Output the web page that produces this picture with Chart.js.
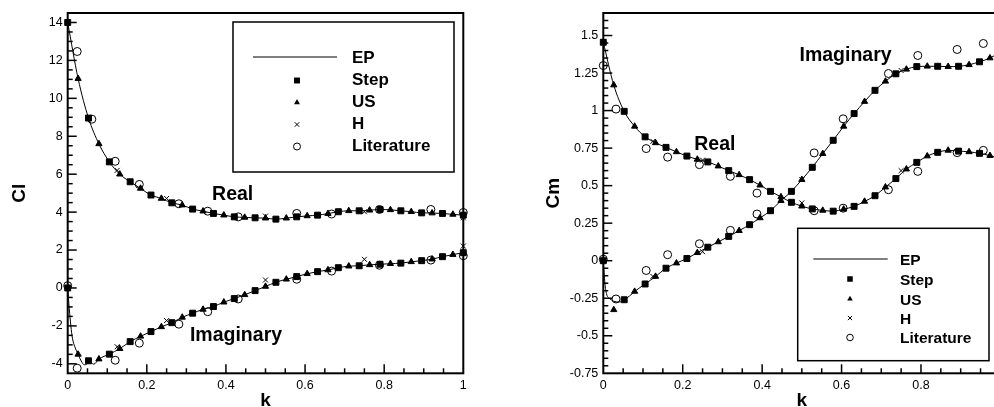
<!DOCTYPE html>
<html>
<head>
<meta charset="utf-8">
<title>Cl and Cm versus reduced frequency k</title>
<script src="https://cdn.jsdelivr.net/npm/chart.js@4.4.1/dist/chart.umd.min.js"></script>
<style>
  html, body { margin: 0; padding: 0; background: #fff; overflow: hidden; }
  #stage { position: relative; width: 994px; height: 407px; overflow: hidden; background: #fff; }
  #stage canvas { position: absolute; top: 0; }
  #clCanvas { left: 0; }
  #cmCanvas { left: 497px; }
</style>
</head>
<body>
<div id="stage">
  <canvas id="clCanvas" width="497" height="407"></canvas>
  <canvas id="cmCanvas" width="530" height="407"></canvas>
</div>
<script>
// ---- tick labels ----
const kTicks = [0, 0.2, 0.4, 0.6, 0.8, 1];
const clTicks = [-4, -2, 0, 2, 4, 6, 8, 10, 12, 14];
const cmTicks = [-0.75, -0.5, -0.25, 0, 0.25, 0.5, 0.75, 1, 1.25, 1.5];

// ---- reduced frequencies of each method ----
const kStep = [0, 0.0526, 0.1053, 0.1579, 0.2105, 0.2632, 0.3158, 0.3684, 0.4211, 0.4737, 0.5263, 0.5789, 0.6316, 0.6842, 0.7368, 0.7895, 0.8421, 0.8947, 0.9474, 1];
const kUS = [0.0263, 0.0789, 0.1316, 0.1842, 0.2368, 0.2895, 0.3421, 0.3947, 0.4474, 0.5, 0.5526, 0.6053, 0.6579, 0.7105, 0.7632, 0.8158, 0.8684, 0.9211, 0.9737];
const kH = [0.125, 0.25, 0.5, 0.75, 1];
const kEp = [0, 0.0263, 0.0526, 0.0789, 0.1053, 0.1316, 0.1579, 0.1842, 0.2105, 0.2368, 0.2632, 0.2895, 0.3158, 0.3421, 0.3684, 0.3947, 0.4211, 0.4474, 0.4737, 0.5, 0.5263, 0.5526, 0.5789, 0.6053, 0.6316, 0.6579, 0.6842, 0.7105, 0.7368, 0.7632, 0.7895, 0.8158, 0.8421, 0.8684, 0.8947, 0.9211, 0.9474, 0.9737, 1];
const clEpKImag = [0, 0.004, 0.008, 0.012, 0.018, 0.0263, 0.034, 0.042, 0.048, 0.0526, 0.066, 0.0789, 0.1053, 0.1316, 0.1579, 0.1842, 0.2105, 0.2368, 0.2632, 0.2895, 0.3158, 0.3421, 0.3684, 0.3947, 0.4211, 0.4474, 0.4737, 0.5, 0.5263, 0.5526, 0.5789, 0.6053, 0.6316, 0.6579, 0.6842, 0.7105, 0.7368, 0.7632, 0.7895, 0.8158, 0.8421, 0.8684, 0.8947, 0.9211, 0.9474, 0.9737, 1];
const cmEpKImag = [0, 0.004, 0.008, 0.015, 0.0263, 0.04, 0.0526, 0.066, 0.0789, 0.1053, 0.1316, 0.1579, 0.1842, 0.2105, 0.2368, 0.2632, 0.2895, 0.3158, 0.3421, 0.3684, 0.3947, 0.4211, 0.4474, 0.4737, 0.5, 0.5263, 0.5526, 0.5789, 0.6053, 0.6316, 0.6579, 0.6842, 0.7105, 0.7368, 0.7632, 0.7895, 0.8158, 0.8421, 0.8684, 0.8947, 0.9211, 0.9474, 0.9737, 1];
const clLitKReal = [0.024, 0.061, 0.12, 0.181, 0.281, 0.354, 0.431, 0.579, 0.667, 0.788, 0.918, 1];
const clLitKImag = [0, 0.024, 0.12, 0.181, 0.281, 0.354, 0.431, 0.579, 0.667, 0.788, 0.918, 1];
const cmLitK = [0, 0.032, 0.108, 0.162, 0.242, 0.32, 0.387, 0.531, 0.604, 0.718, 0.792, 0.891, 0.957];

// ---- lift coefficient Cl ----
const clEpReal = [14.0, 11.04, 8.96, 7.6, 6.65, 6.0, 5.6, 5.25, 4.9, 4.72, 4.49, 4.37, 4.16, 4.05, 3.93, 3.84, 3.75, 3.72, 3.7, 3.68, 3.63, 3.68, 3.75, 3.8, 3.84, 3.92, 4.02, 4.07, 4.07, 4.1, 4.14, 4.12, 4.07, 4.02, 3.96, 3.95, 3.93, 3.88, 3.84];
const clEpImag = [0, -1.1, -2.0, -2.65, -3.1, -3.5, -3.85, -4.05, -4.02, -3.84, -4.02, -3.75, -3.49, -3.2, -2.83, -2.55, -2.3, -2.05, -1.83, -1.55, -1.33, -1.13, -0.98, -0.75, -0.56, -0.36, -0.14, 0.08, 0.3, 0.46, 0.6, 0.75, 0.86, 0.95, 1.07, 1.15, 1.17, 1.22, 1.25, 1.28, 1.31, 1.38, 1.44, 1.52, 1.65, 1.76, 1.86];
const clStepReal = [14.0, 8.96, 6.65, 5.6, 4.9, 4.49, 4.16, 3.93, 3.75, 3.7, 3.63, 3.75, 3.84, 4.02, 4.07, 4.14, 4.07, 3.96, 3.93, 3.84];
const clStepImag = [0, -3.84, -3.49, -2.83, -2.3, -1.83, -1.33, -0.98, -0.56, -0.14, 0.3, 0.6, 0.86, 1.07, 1.17, 1.25, 1.31, 1.44, 1.65, 1.86];
const clUSReal = [11.04, 7.6, 6.0, 5.25, 4.72, 4.37, 4.05, 3.84, 3.72, 3.68, 3.68, 3.8, 3.92, 4.07, 4.1, 4.12, 4.02, 3.95, 3.88];
const clUSImag = [-3.5, -3.75, -3.2, -2.55, -2.05, -1.55, -1.13, -0.75, -0.36, 0.08, 0.46, 0.75, 0.95, 1.15, 1.22, 1.28, 1.38, 1.52, 1.76];
const clHReal = [6.2, 4.72, 3.79, 4.02, 3.7];
const clHImag = [-3.1, -1.72, 0.42, 1.51, 2.21];
const clLitReal = [12.47, 8.9, 6.68, 5.46, 4.44, 4.05, 3.75, 3.93, 3.9, 4.14, 4.14, 3.98];
const clLitImag = [0.12, -4.23, -3.81, -2.91, -1.91, -1.25, -0.58, 0.46, 0.89, 1.2, 1.47, 1.7];

// ---- moment coefficient Cm ----
const cmEpReal = [1.455, 1.17, 0.995, 0.895, 0.825, 0.785, 0.755, 0.725, 0.697, 0.675, 0.658, 0.63, 0.6, 0.572, 0.54, 0.503, 0.462, 0.425, 0.389, 0.363, 0.345, 0.335, 0.33, 0.343, 0.362, 0.395, 0.433, 0.49, 0.547, 0.61, 0.655, 0.697, 0.722, 0.735, 0.73, 0.725, 0.715, 0.7, 0.68];
const cmEpImag = [0, -0.15, -0.22, -0.25, -0.27, -0.275, -0.26, -0.235, -0.205, -0.155, -0.105, -0.05, -0.016, 0.015, 0.053, 0.09, 0.125, 0.162, 0.2, 0.24, 0.285, 0.333, 0.4, 0.462, 0.54, 0.622, 0.713, 0.802, 0.895, 0.98, 1.06, 1.135, 1.195, 1.245, 1.275, 1.293, 1.295, 1.295, 1.293, 1.295, 1.305, 1.325, 1.35, 1.39];
const cmStepReal = [1.455, 0.995, 0.825, 0.755, 0.697, 0.658, 0.6, 0.54, 0.462, 0.389, 0.345, 0.33, 0.362, 0.433, 0.547, 0.655, 0.722, 0.73, 0.715, 0.68];
const cmStepImag = [0, -0.26, -0.155, -0.05, 0.015, 0.09, 0.162, 0.24, 0.333, 0.462, 0.622, 0.802, 0.98, 1.135, 1.245, 1.293, 1.295, 1.295, 1.325, 1.39];
const cmUSReal = [1.17, 0.895, 0.785, 0.725, 0.675, 0.63, 0.572, 0.503, 0.425, 0.363, 0.335, 0.343, 0.395, 0.49, 0.61, 0.697, 0.735, 0.725, 0.7];
const cmUSImag = [-0.327, -0.205, -0.105, -0.016, 0.053, 0.125, 0.2, 0.285, 0.4, 0.54, 0.713, 0.895, 1.06, 1.195, 1.275, 1.295, 1.293, 1.305, 1.35];
const cmHReal = [0.795, 0.67, 0.385, 0.6, 0.68];
const cmHImag = [-0.105, 0.06, 0.54, 1.267, 1.39];
const cmLitReal = [1.3, 1.01, 0.747, 0.69, 0.64, 0.562, 0.45, 0.333, 0.35, 0.473, 0.595, 0.72, 0.735];
const cmLitImag = [0.01, -0.255, -0.065, 0.04, 0.113, 0.202, 0.311, 0.718, 0.945, 1.247, 1.367, 1.407, 1.447];

const legendLabels = ['EP', 'Step', 'US', 'H', 'Literature'];

// ---- helpers ----
const FAMILY = "'Liberation Sans', Arial, Helvetica, sans-serif";
const pts = (xs, ys) => xs.map((x, i) => ({ x, y: ys[i] }));

function curve(label, xs, ys) {
  return { label, data: pts(xs, ys), showLine: true, borderColor: '#000', borderWidth: 1,
    pointRadius: 0, cubicInterpolationMode: 'monotone', fill: false, clip: false };
}
function marks(label, xs, ys, style, radius, hollow) {
  return { label, data: pts(xs, ys), showLine: false, pointStyle: style, pointRadius: radius,
    pointBorderColor: '#000', pointBackgroundColor: hollow ? 'rgba(0,0,0,0)' : '#000',
    pointBorderWidth: 1, clip: false };
}

function drawSymbol(ctx, kind, x, y, r) {
  ctx.beginPath();
  if (kind === 'rect') {
    const s = r * Math.SQRT1_2;
    ctx.fillRect(x - s, y - s, 2 * s, 2 * s);
  } else if (kind === 'triangle') {
    ctx.moveTo(x, y - r);
    ctx.lineTo(x + r * Math.sin(2 * Math.PI / 3), y - r * Math.cos(2 * Math.PI / 3));
    ctx.lineTo(x + r * Math.sin(4 * Math.PI / 3), y - r * Math.cos(4 * Math.PI / 3));
    ctx.closePath();
    ctx.fill();
  } else if (kind === 'crossRot') {
    const d = r * Math.SQRT1_2;
    ctx.moveTo(x - d, y - d); ctx.lineTo(x + d, y + d);
    ctx.moveTo(x + d, y - d); ctx.lineTo(x - d, y + d);
    ctx.stroke();
  } else if (kind === 'circle') {
    ctx.arc(x, y, r, 0, Math.PI * 2);
    ctx.stroke();
  }
}

// inward major/minor ticks, plot frame, legend box and curve annotations
const panelDecor = {
  id: 'panelDecor',
  beforeDatasetsDraw(chart, args, o) {
    const { ctx, chartArea: a } = chart;
    const xs = chart.scales.x, ys = chart.scales.y;
    ctx.save();
    ctx.strokeStyle = '#000';
    ctx.lineWidth = 1.5;
    const tickSet = (scale, step, majors, horizontal) => {
      const n = Math.round((scale.max - scale.min) / step);
      for (let i = 1; i < n; i++) {
        const v = scale.min + i * step;
        const major = majors.some(m => Math.abs(m - v) < step / 10);
        const len = major ? o.majorLen : o.minorLen;
        const p = scale.getPixelForValue(v);
        ctx.beginPath();
        if (horizontal) { ctx.moveTo(p, a.bottom); ctx.lineTo(p, a.bottom - len); }
        else { ctx.moveTo(a.left, p); ctx.lineTo(a.left + len, p); }
        ctx.stroke();
      }
    };
    tickSet(xs, o.minorX, o.majorX, true);
    tickSet(ys, o.minorY, o.majorY, false);
    ctx.lineWidth = 2;
    ctx.strokeRect(a.left, a.top, a.right - a.left, a.bottom - a.top);
    ctx.restore();
  },
  afterDatasetsDraw(chart, args, o) {
    const { ctx } = chart;
    const xs = chart.scales.x, ys = chart.scales.y;
    ctx.save();
    ctx.fillStyle = '#000';
    ctx.strokeStyle = '#000';
    // curve annotations
    ctx.font = `bold ${o.noteSize}px ${FAMILY}`;
    ctx.textAlign = 'left';
    ctx.textBaseline = 'alphabetic';
    o.notes.forEach(n => {
      ctx.fillText(n.text, xs.getPixelForValue(n.k), ys.getPixelForValue(n.v) + 0.36 * o.noteSize);
    });
    // legend
    const L = o.legend;
    ctx.fillStyle = '#fff';
    ctx.fillRect(L.x0, L.y0, L.x1 - L.x0, L.y1 - L.y0);
    ctx.lineWidth = 1.5;
    ctx.strokeRect(L.x0, L.y0, L.x1 - L.x0, L.y1 - L.y0);
    ctx.fillStyle = '#000';
    ctx.lineWidth = 1;
    ctx.beginPath();
    ctx.moveTo(L.lineX0, L.rows[0]);
    ctx.lineTo(L.lineX1, L.rows[0]);
    ctx.stroke();
    const kinds = ['rect', 'triangle', 'crossRot', 'circle'];
    const radii = [L.rectR, L.triR, L.crossR, L.circR];
    kinds.forEach((kd, i) => drawSymbol(ctx, kd, L.symX, L.rows[i + 1] + L.symDy, radii[i]));
    ctx.font = `bold ${L.size}px ${FAMILY}`;
    legendLabels.forEach((t, i) => ctx.fillText(t, L.textX, L.rows[i] + 0.36 * L.size));
    ctx.restore();
  }
};

function axes(yMin, yMax, yTicks, yWidth, titleText, titlePad) {
  return {
    x: {
      type: 'linear', min: 0, max: 1, bounds: 'data',
      afterBuildTicks: s => { s.ticks = kTicks.map(v => ({ value: v })); },
      afterFit: s => { s.height = 33.7; },
      grid: { display: false, drawTicks: false },
      border: { display: false },
      ticks: { autoSkip: false, maxRotation: 0, padding: 5, color: '#000',
        font: { family: FAMILY, size: 12.5 }, callback: v => String(v) },
      title: { display: true, text: 'k', color: '#000', padding: { top: 0, bottom: -5 },
        font: { family: FAMILY, size: 19, weight: 'bold' } }
    },
    y: {
      type: 'linear', min: yMin, max: yMax, bounds: 'data',
      afterBuildTicks: s => { s.ticks = yTicks.map(v => ({ value: v })); },
      afterFit: s => { s.width = yWidth; },
      grid: { display: false, drawTicks: false },
      border: { display: false },
      ticks: { autoSkip: false, padding: 5, color: '#000',
        font: { family: FAMILY, size: 12.5 }, callback: v => String(v) },
      title: { display: true, text: titleText, color: '#000', padding: { top: titlePad, bottom: 0 },
        font: { family: FAMILY, size: 19, weight: 'bold' } }
    }
  };
}

function datasets(epKR, epR, epKI, epI, stR, stI, usR, usI, hR, hI, litKR, litR, litKI, litI) {
  return [
    marks('Literature', litKR, litR, 'circle', 4, true),
    marks('Literature', litKI, litI, 'circle', 4, true),
    marks('H', kH, hR, 'crossRot', 3.5, false),
    marks('H', kH, hI, 'crossRot', 3.5, false),
    marks('US', kUS, usR, 'triangle', 3.6, false),
    marks('US', kUS, usI, 'triangle', 3.6, false),
    marks('Step', kStep, stR, 'rect', 4.2, false),
    marks('Step', kStep, stI, 'rect', 4.2, false),
    curve('EP', epKR, epR),
    curve('EP', epKI, epI)
  ];
}

const common = {
  responsive: false,
  animation: false,
  events: [],
  devicePixelRatio: 1
};

new Chart(document.getElementById('clCanvas'), {
  type: 'scatter',
  data: { datasets: datasets(kEp, clEpReal, clEpKImag, clEpImag, clStepReal, clStepImag,
    clUSReal, clUSImag, clHReal, clHImag, clLitKReal, clLitReal, clLitKImag, clLitImag) },
  options: Object.assign({}, common, {
    layout: { padding: { left: 0, top: 13, right: 33.7, bottom: 0 } },
    scales: axes(-4.5, 14.5, clTicks, 67.7, 'Cl', 8),
    plugins: {
      legend: { display: false }, tooltip: { enabled: false },
      panelDecor: {
        minorX: 0.05, majorX: kTicks, minorY: 0.5, majorY: clTicks, majorLen: 9, minorLen: 5,
        noteSize: 19.5,
        notes: [{ text: 'Real', k: 0.365, v: 5.03 }, { text: 'Imaginary', k: 0.309, v: -2.45 }],
        legend: { x0: 233, y0: 22, x1: 454, y1: 172, lineX0: 253, lineX1: 337, symX: 297, textX: 352,
          rows: [57, 79, 101, 123, 145], symDy: 1.5, size: 17, rectR: 4.2, triR: 3.4, crossR: 3.2, circR: 3.5 }
      }
    }
  }),
  plugins: [panelDecor]
});

new Chart(document.getElementById('cmCanvas'), {
  type: 'scatter',
  data: { datasets: datasets(kEp, cmEpReal, cmEpKImag, cmEpImag, cmStepReal, cmStepImag,
    cmUSReal, cmUSImag, cmHReal, cmHImag, cmLitK, cmLitReal, cmLitK, cmLitImag) },
  options: Object.assign({}, common, {
    layout: { padding: { left: 0, top: 13, right: 26.6, bottom: 0 } },
    scales: axes(-0.75, 1.65, cmTicks, 106.3, 'Cm', 45.6),
    plugins: {
      legend: { display: false }, tooltip: { enabled: false },
      panelDecor: {
        minorX: 0.05, majorX: kTicks, minorY: 0.05, majorY: cmTicks, majorLen: 9, minorLen: 5,
        noteSize: 19.5,
        notes: [{ text: 'Real', k: 0.229, v: 0.785 }, { text: 'Imaginary', k: 0.494, v: 1.375 }],
        legend: { x0: 300.7, y0: 228.3, x1: 492, y1: 360.7, lineX0: 316.3, lineX1: 390.7, symX: 353, textX: 403,
          rows: [259, 279, 299, 318, 337.5], symDy: 0, size: 15.5, rectR: 3.9, triR: 3.2, crossR: 3.0, circR: 3.3 }
      }
    }
  }),
  plugins: [panelDecor]
});
</script>
</body>
</html>
